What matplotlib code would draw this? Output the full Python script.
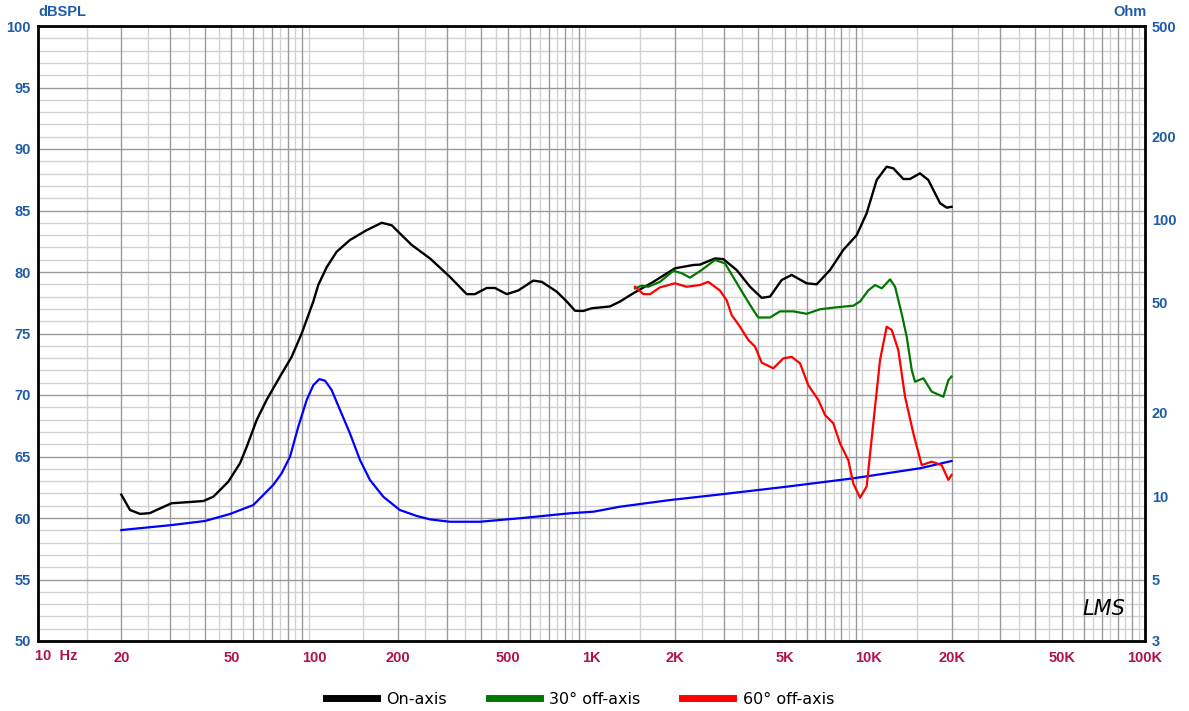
import matplotlib
matplotlib.use("Agg")
import matplotlib.pyplot as plt
from matplotlib.lines import Line2D
import numpy as np

# ---------------- data ----------------
on_f = [20, 21.5, 23.4, 25.4, 26.8, 30.4, 34.4, 39.6, 43, 48.7, 53.7, 56.8, 61.7, 67, 74.9,
        82.5, 89.7, 98.8, 103, 110.5, 120, 134, 154, 174.6, 189.7, 206, 224, 240, 261, 308,
        354, 379, 418, 448, 494, 544, 616, 661, 749, 814, 872, 934, 1001, 1166, 1268, 1416,
        1673, 2003, 2333, 2466, 2793, 2993, 3346, 3740, 4121, 4416, 4867, 5289, 5991, 6511,
        7276, 8128, 9084, 9866, 10728, 11656, 12320, 13390, 14150, 15380, 16480, 18170,
        19210, 20000]
on_db = [61.9, 60.65, 60.33, 60.4, 60.65, 61.2, 61.28, 61.38, 61.73, 62.95, 64.45, 65.8, 67.97,
         69.6, 71.5, 73.1, 75.0, 77.6, 78.95, 80.4, 81.65, 82.6, 83.4, 84.0, 83.8, 83.0, 82.2,
         81.7, 81.1, 79.6, 78.2, 78.2, 78.7, 78.7, 78.2, 78.5, 79.3, 79.2, 78.4, 77.6, 76.85,
         76.83, 77.05, 77.2, 77.6, 78.27, 79.2, 80.3, 80.57, 80.6, 81.1, 81.05, 80.16, 78.8,
         77.9, 78.0, 79.35, 79.76, 79.08, 79.0, 80.16, 81.8, 83.0, 84.77, 87.48, 88.56, 88.43,
         87.56, 87.56, 88.02, 87.48, 85.6, 85.23, 85.3]

off30_f = [1436, 1518, 1604, 1768, 1976, 2118, 2269, 2500, 2793, 3037, 3299, 3585, 3842, 4006,
           4416, 4797, 5358, 5991, 6692, 7691, 8830, 9340, 10000, 10580, 11190, 11990, 12500,
           13210, 13770, 14360, 14760, 15820, 16960, 18680, 19470, 20000]
off30_db = [78.67, 78.89, 78.8, 79.2, 80.1, 79.9, 79.54, 80.16, 80.98, 80.7, 79.35, 78.0, 76.9,
            76.3, 76.3, 76.8, 76.8, 76.6, 76.97, 77.13, 77.26, 77.6, 78.5, 78.94, 78.67, 79.4,
            78.8, 76.6, 74.74, 72.03, 71.08, 71.36, 70.27, 69.86, 71.2, 71.5]

off60_f = [1436, 1539, 1627, 1768, 2003, 2208, 2466, 2641, 2910, 3079, 3210, 3440, 3687, 3899,
           4121, 4540, 4934, 5289, 5668, 6072, 6600, 6980, 7478, 7907, 8472, 8830, 9340, 9866,
           10430, 11030, 11656, 12150, 12840, 13580, 14550, 15600, 16960, 18420, 19470, 20000]
off60_db = [78.8, 78.2, 78.2, 78.75, 79.08, 78.8, 78.94, 79.2, 78.5, 77.7, 76.5, 75.55, 74.47,
            73.93, 72.63, 72.17, 72.98, 73.1, 72.58, 70.8, 69.6, 68.37, 67.7, 66.07, 64.7, 62.8,
            61.65, 62.55, 67.7, 72.85, 75.55, 75.3, 73.66, 69.86, 66.89, 64.3, 64.58, 64.3,
            63.1, 63.5]

imp_f = [20, 30.4, 40.1, 49.4, 60, 70.8, 75.9, 81.4, 87.2, 93.5, 98.8, 103.9, 108.9, 115.1,
         123.4, 134, 145.7, 158.3, 176.9, 203, 233.5, 261, 308, 395, 552, 836, 1020, 1268,
         1921, 2910, 5070, 8830, 15380, 20000]
imp_ohm = [7.55, 7.87, 8.14, 8.63, 9.30, 10.99, 12.1, 13.9, 17.84, 22.27, 25.2, 26.5, 26.16,
           24.2, 20.5, 16.88, 13.52, 11.45, 9.96, 8.92, 8.49, 8.25, 8.09, 8.09, 8.33, 8.68,
           8.8, 9.17, 9.69, 10.15, 10.83, 11.61, 12.62, 13.41]

x_tick_vals = [20, 50, 100, 200, 500, 1000, 2000, 5000, 10000, 20000, 50000, 100000]
x_tick_labels = ["20", "50", "100", "200", "500", "1K", "2K", "5K", "10K", "20K", "50K", "100K"]
db_ticks = [50, 55, 60, 65, 70, 75, 80, 85, 90, 95, 100]
ohm_ticks = [3, 5, 10, 20, 50, 100, 200, 500]
series_names = ["On-axis", "30° off-axis", "60° off-axis"]

# ---------------- style ----------------
BLUE_TXT = "#1f5ca8"
RED_TXT = "#b0124f"
DARK_GRID = "#9a9a9a"
LIGHT_GRID = "#d2d2d2"

W, H = 1189, 711
fig = plt.figure(figsize=(W / 100, H / 100), dpi=100)
L, R, T, B = 38, 1145, 26, 641
ax = fig.add_axes([L / W, 1 - B / H, (R - L) / W, (B - T) / H])
ax.set_xscale("log")
ax.set_xlim(10, 100000)
ax.set_ylim(50, 100)

# grid (bottom axes)
for dec in [10, 100, 1000, 10000]:
    for m in range(1, 10):
        if m > 1:
            ax.axvline(dec * m, color=DARK_GRID, lw=1.0, zorder=1)
        ax.axvline(dec * (m + 0.5), color=LIGHT_GRID, lw=1.0, zorder=0.5)
for v in range(50, 101):
    if v % 5 == 0:
        ax.axhline(v, color=DARK_GRID, lw=1.0, zorder=1)
    else:
        ax.axhline(v, color=LIGHT_GRID, lw=1.0, zorder=0.5)
for s in ax.spines.values():
    s.set_visible(False)

# top axes: impedance scale + all curves
ax2 = ax.twinx()
ax2.set_yscale("log")
ax2.set_ylim(3, 500)
ax2.set_xlim(10, 100000)
ax2.patch.set_visible(False)
for s in ax2.spines.values():
    s.set_visible(True)
    s.set_linewidth(2.0)
    s.set_color("black")
    s.set_zorder(10)

ax2.plot(imp_f, imp_ohm, color="#0000ff", lw=1.6, zorder=3)
ax2.plot(on_f, on_db, color="black", lw=1.7, zorder=4, transform=ax.transData)
ax2.plot(off30_f, off30_db, color="#007800", lw=1.6, zorder=4, transform=ax.transData)
ax2.plot(off60_f, off60_db, color="#ff0000", lw=1.6, zorder=4, transform=ax.transData)
ax2.set_ylim(3, 500)
ax2.set_xlim(10, 100000)

fnt = dict(family="Liberation Sans", weight="bold", size=10.5)
ax.set_yticks(db_ticks)
ax.set_yticklabels([str(t) for t in db_ticks], color=BLUE_TXT, **fnt)
ax.set_xticks(x_tick_vals)
ax.set_xticklabels(x_tick_labels, color=RED_TXT, **fnt)
ax.xaxis.set_minor_locator(matplotlib.ticker.NullLocator())
ax.tick_params(axis="both", which="both", length=0, pad=5)
ax.tick_params(axis="x", pad=7)
ax.text(-0.003, -0.013, "10  Hz", transform=ax.transAxes, ha="left", va="top",
        color=RED_TXT, **fnt)

ax2.set_yticks(ohm_ticks)
ax2.set_yticklabels([str(t) for t in ohm_ticks], color=BLUE_TXT, **fnt)
ax2.yaxis.set_minor_locator(matplotlib.ticker.NullLocator())
ax2.tick_params(axis="both", which="both", length=0, pad=5)

fig.text(38 / W, 1 - 12 / H, "dBSPL", color=BLUE_TXT, ha="left", va="center", **fnt)
fig.text(1147 / W, 1 - 12 / H, "Ohm", color=BLUE_TXT, ha="right", va="center", **fnt)

# LMS logo
ax2.text(0.982, 0.035, "LMS", transform=ax2.transAxes, ha="right", va="bottom",
         fontsize=15, style="italic", family="DejaVu Sans", color="black", zorder=11)

handles = [Line2D([0], [0], color=c, lw=5) for c in ["black", "#007800", "#ff0000"]]
fig.legend(handles, series_names, loc="center", bbox_to_anchor=(580 / W, 1 - 699 / H),
           ncol=3, frameon=False, prop=dict(family="DejaVu Sans", size=11.5),
           handlelength=3.2, handletextpad=0.6, columnspacing=2.6)

fig.savefig("out.png", dpi=100)
